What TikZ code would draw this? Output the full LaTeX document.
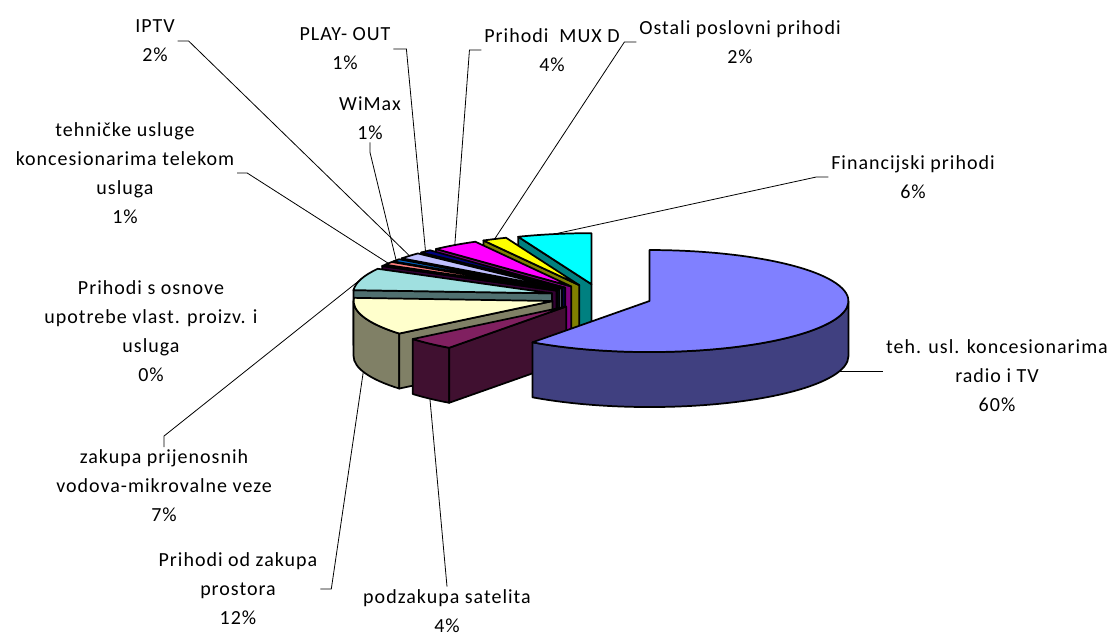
\documentclass[tikz,border=0pt]{standalone}
\usepackage{fontspec}
\setmainfont{Carlito}[LetterSpace=5]
\usepackage{tikz}

% pie geometry (in picture units)
\def\prx{199}
\def\pry{51}
\def\pdep{55}
\def\pexp{0.256}

\newcommand{\pieslice}[5]{%
  \pgfmathsetmacro{\midang}{(#1+#2)/2}
  \pgfmathsetmacro{\wa}{max(#1,180)}
  \pgfmathsetmacro{\wb}{min(#2,360)}
  \pgfmathtruncatemacro{\cutvis}{cos(#2)<-0.01}
  \begin{scope}[shift={({601+\pexp*\prx*cos(\midang)},{-297+\pexp*\pry*sin(\midang)})}]
    \ifdim\wa pt<\wb pt
      \filldraw[slice,fill=#4] ({\prx*cos(\wa)},{\pry*sin(\wa)})
        arc[start angle=\wa, end angle=\wb, x radius=\prx, y radius=\pry]
        -- ++(0,-\pdep)
        arc[start angle=\wb, end angle=\wa, x radius=\prx, y radius=\pry] -- cycle;
    \fi
    \ifnum\cutvis=1
      \filldraw[slice,fill=#4] (0,0) -- ({\prx*cos(#2)},{\pry*sin(#2)}) -- ++(0,-\pdep) -- (0,-\pdep) -- cycle;
    \fi
    \filldraw[slice,fill=#3] (0,0) -- ({\prx*cos(#1)},{\pry*sin(#1)})
      arc[start angle=#1, end angle=#2, x radius=\prx, y radius=\pry] -- cycle;
    \path ({\prx*cos(\midang)},{\pry*sin(\midang)}) coordinate (#5) ++(0,-\pdep) coordinate (#5-b);
  \end{scope}}

\definecolor{bigtop}{HTML}{8080FF}   \definecolor{bigside}{HTML}{404080}
\definecolor{plumtop}{HTML}{802060}  \definecolor{plumside}{HTML}{401030}
\definecolor{ivtop}{HTML}{FFFFCC}    \definecolor{ivside}{HTML}{808066}
\definecolor{ltctop}{HTML}{A0E0E0}   \definecolor{ltcside}{HTML}{507070}
\definecolor{dptop}{HTML}{660066}    \definecolor{dpside}{HTML}{330033}
\definecolor{cortop}{HTML}{FF8080}   \definecolor{corside}{HTML}{804040}
\definecolor{octop}{HTML}{0066CC}    \definecolor{ocside}{HTML}{003366}
\definecolor{ibtop}{HTML}{C0C0FF}    \definecolor{ibside}{HTML}{606080}
\definecolor{navtop}{HTML}{000080}   \definecolor{navside}{HTML}{000040}
\definecolor{pktop}{HTML}{FF00FF}    \definecolor{pkside}{HTML}{800080}
\definecolor{yeltop}{HTML}{FFFF00}   \definecolor{yelside}{HTML}{808000}
\definecolor{tqtop}{HTML}{00FFFF}    \definecolor{tqside}{HTML}{008080}

\begin{document}
\begin{tikzpicture}[x=0.75pt, y=0.75pt,
            slice/.style = {draw=black, line width=1.3pt, line join=round},
            leader/.style = {draw=black, line width=0.6pt},
            every node/.style = {align=center, inner sep=2pt,
                                font=\fontsize{15}{21.75}\selectfont}]
  \useasboundingbox[fill=white] (0,0) rectangle (1112,-639);

  % slices, back to front
  \pieslice{90}{111.6}{tqtop}{tqside}{fin}
  \pieslice{111.6}{118.8}{yeltop}{yelside}{ost}
  \pieslice{118.8}{132.8}{pktop}{pkside}{mux}
  \pieslice{132.8}{136.4}{navtop}{navside}{play}
  \pieslice{136.4}{143.6}{ibtop}{ibside}{iptv}
  \pieslice{143.6}{146.5}{octop}{ocside}{wim}
  \pieslice{146.5}{150.1}{cortop}{corside}{tech}
  \pieslice{150.1}{151.2}{dptop}{dpside}{osn}
  \pieslice{151.2}{176.4}{ltctop}{ltcside}{mik}
  \pieslice{176.4}{219.6}{ivtop}{ivside}{zak}
  \pieslice{219.6}{234}{plumtop}{plumside}{sat}
  \pieslice{234}{450}{bigtop}{bigside}{big}

  % labels
  \node (lbig)  at (997,-376) {teh. usl. koncesionarima\\radio i TV\\60\%};
  \node (lfin)  at (913,-177) {Financijski prihodi\\6\%};
  \node (lost)  at (740,-42)  {Ostali poslovni prihodi\\2\%};
  \node (lmux)  at (552,-50)  {Prihodi\ \ MUX D\\4\%};
  \node (lplay) at (345,-49)  {PLAY- OUT\\1\%};
  \node (lwim)  at (370,-118) {WiMax\\1\%};
  \node (liptv) at (155,-41)  {IPTV\\2\%};
  \node (ltech) at (125,-173) {tehničke usluge\\koncesionarima telekom\\usluga\\1\%};
  \node (losn)  at (151,-331) {Prihodi s osnove\\upotrebe vlast. proizv. i\\usluga\\0\%};
  \node (lmik)  at (164,-486) {zakupa prijenosnih\\vodova-mikrovalne veze\\7\%};
  \node (lzak)  at (238,-589) {Prihodi od zakupa\\prostora\\12\%};
  \node (lsat)  at (447,-611) {podzakupa satelita\\4\%};

  % leader lines
  \draw[leader] (big-b) -- (big-b -| lbig.west);
  \draw[leader] (lfin.west) -- ++(-12,0) -- (fin);
  \draw[leader] (lost.west) -- ++(-12,0) -- (ost);
  \draw[leader] (lmux.west) -- ++(-12,0) -- (mux);
  \draw[leader] (lplay.east) -- ++(13,0) -- (play);
  \draw[leader] (liptv.east) -- ++(11,0) -- (iptv);
  \draw[leader] (ltech.east) -- ++(10,0) -- (tech);
  \draw[leader] (lwim.south) -- ++(0,-10) -- (wim);
  \draw[leader] (lmik.north) -- ++(0,11) -- (mik);
  \draw[leader] (lzak.east) -- ++(11,0) -- (zak-b);
  \draw[leader] (lsat.north) -- (sat-b);
\end{tikzpicture}
\end{document}
